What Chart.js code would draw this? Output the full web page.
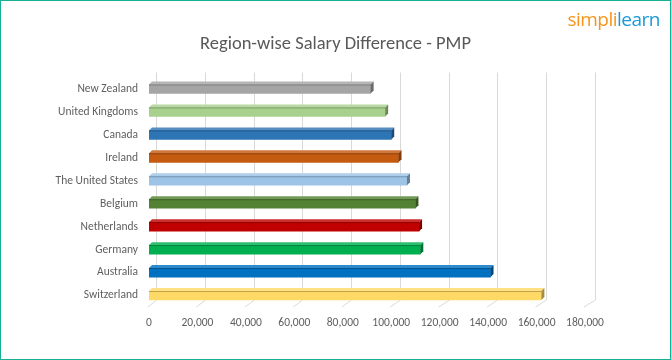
<!DOCTYPE html>
<html>
<head>
<meta charset="utf-8">
<script src="https://cdn.jsdelivr.net/npm/chart.js@4"></script>
<style>
  html, body { margin: 0; padding: 0; background: #fff; }
  #wrap { position: relative; width: 671px; height: 360px; overflow: hidden; background: #fff; }
  #c { position: absolute; left: 0; top: 0; }
  #frame { position: absolute; left: 0; top: 0; width: 671px; height: 360px; box-sizing: border-box;
           border: 1.5px solid #17b092; pointer-events: none; }
  #title { position: absolute; left: 0; width: 671px; top: 31px; text-align: center;
           font-family: Carlito, Lato, "Open Sans", sans-serif; font-size: 18.5px; color: #595959; }
  #logo { position: absolute; right: 11px; top: 6px; font-family: "Open Sans", Lato, sans-serif;
          font-size: 19px; letter-spacing: -0.5px; }
  #logo .o { color: #f7941d; }
  #logo .b { color: #1c9ad6; }
</style>
</head>
<body>
<div id="wrap">
  <canvas id="c" width="671" height="360"></canvas>
  <div id="title">Region-wise Salary Difference - PMP</div>
  <div id="logo"><span class="o">simpl</span><span class="o">i</span><span class="b">learn</span></div>
  <div id="frame"></div>
</div>
<script>
const categories = ['New Zealand', 'United Kingdoms', 'Canada', 'Ireland', 'The United States',
                    'Belgium', 'Netherlands', 'Germany', 'Australia', 'Switzerland'];
const salaries = [91500, 97500, 100000, 103000, 106500, 110000, 111500, 112000, 141000, 162000];
const barColors = ['#a5a5a5', '#a9d18e', '#2e75b6', '#c55a11', '#9dc3e6',
                   '#548235', '#c00000', '#00b050', '#0070c0', '#ffd966'];
const axisMin = 0;
const axisMax = 180000;
const axisStep = 20000;

function shade(hex, f) {
  const n = parseInt(hex.slice(1), 16);
  let r = (n >> 16) & 255, g = (n >> 8) & 255, b = n & 255;
  if (f < 0) { r = r * (1 + f); g = g * (1 + f); b = b * (1 + f); }
  else { r = r + (255 - r) * f; g = g + (255 - g) * f; b = b + (255 - b) * f; }
  return 'rgb(' + Math.round(r) + ',' + Math.round(g) + ',' + Math.round(b) + ')';
}

const wallPlugin = {
  id: 'wall3d',
  beforeDatasetsDraw(chart) {
    const ctx = chart.ctx, xs = chart.scales.x, area = chart.chartArea;
    ctx.save();
    ctx.strokeStyle = '#d9d9d9';
    ctx.lineWidth = 1;
    for (let v = axisMin; v <= axisMax; v += axisStep) {
      const fx = xs.getPixelForValue(v);
      const bx = Math.round(fx + 7 + 3 * v / axisMax) + 0.5;
      ctx.beginPath();
      ctx.moveTo(bx, area.top - 5);
      ctx.lineTo(bx, area.bottom - 7);
      ctx.lineTo(fx - 1, area.bottom);
      ctx.stroke();
    }
    ctx.restore();
  }
};

const barPlugin = {
  id: 'bar3d',
  afterDatasetsDraw(chart) {
    const ctx = chart.ctx;
    const meta = chart.getDatasetMeta(0);
    const d = 3;
    ctx.save();
    meta.data.forEach((el, i) => {
      const p = el.getProps(['x', 'y', 'base', 'height'], true);
      const top = p.y - p.height / 2, bot = p.y + p.height / 2;
      const c = barColors[i];
      // top face
      ctx.fillStyle = shade(c, 0.18);
      ctx.beginPath();
      ctx.moveTo(p.base, top);
      ctx.lineTo(p.x, top);
      ctx.lineTo(p.x + d, top - d);
      ctx.lineTo(p.base + d, top - d);
      ctx.closePath();
      ctx.fill();
      ctx.strokeStyle = shade(c, -0.25);
      ctx.lineWidth = 1;
      ctx.beginPath();
      ctx.moveTo(p.base, top + 0.5);
      ctx.lineTo(p.x, top + 0.5);
      ctx.stroke();
      // right side cap
      ctx.fillStyle = shade(c, -0.35);
      ctx.beginPath();
      ctx.moveTo(p.x, top);
      ctx.lineTo(p.x + d, top - d);
      ctx.lineTo(p.x + d, bot - d);
      ctx.lineTo(p.x, bot);
      ctx.closePath();
      ctx.fill();
    });
    ctx.restore();
  }
};

const tickFont = { family: 'Carlito, Lato, "Open Sans", sans-serif', size: 11.5 };

new Chart(document.getElementById('c'), {
  type: 'bar',
  data: {
    labels: categories,
    datasets: [{
      data: salaries,
      backgroundColor: barColors,
      borderWidth: 0,
      barThickness: 9
    }]
  },
  options: {
    indexAxis: 'y',
    responsive: false,
    animation: false,
    events: [],
    layout: { padding: { left: 0, top: 77.5, right: 86, bottom: 0 } },
    plugins: { legend: { display: false }, title: { display: false }, tooltip: { enabled: false } },
    scales: {
      x: {
        min: axisMin, max: axisMax,
        grid: { display: false, drawTicks: false },
        border: { display: false },
        ticks: {
          stepSize: axisStep,
          padding: 9,
          color: '#5f5f5f',
          font: tickFont,
          maxRotation: 0,
          autoSkip: false,
          callback: v => Number(v).toLocaleString('en-US')
        },
        afterFit: s => { s.height = 53; }
      },
      y: {
        grid: { display: false, drawTicks: false },
        border: { display: false },
        ticks: { padding: 11, color: '#5f5f5f', font: tickFont, autoSkip: false },
        afterFit: s => { s.width = 149; }
      }
    }
  },
  plugins: [wallPlugin, barPlugin]
});
</script>
</body>
</html>
